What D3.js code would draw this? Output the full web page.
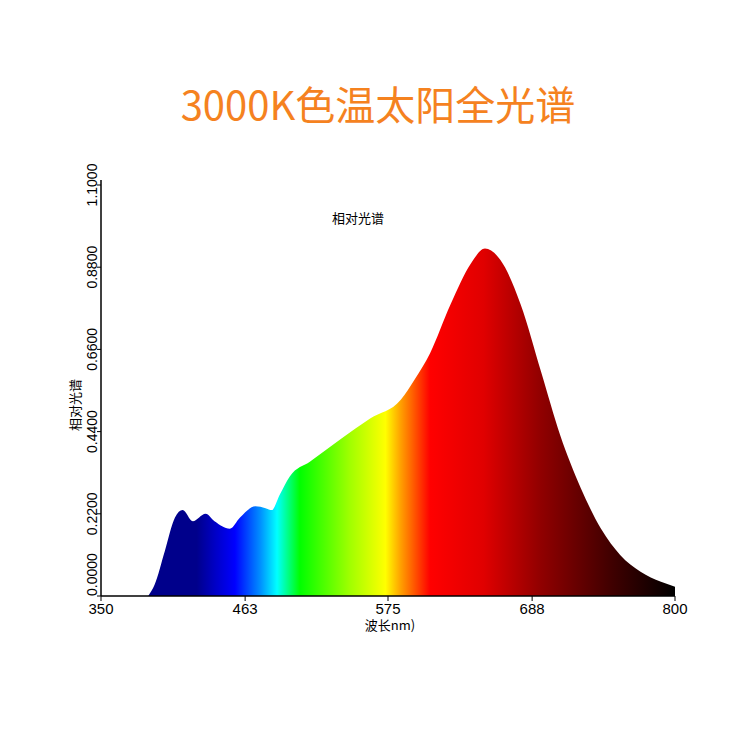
<!DOCTYPE html><html><head><meta charset="utf-8"><script src="https://cdn.jsdelivr.net/npm/d3@7"></script>
<style>body{margin:0;background:#fff}</style></head><body><svg id="c" width="750" height="750"></svg>
<script>
const wavelengths=[387,392,400,408,414,422,432,439,451,459,471,479,484,490,498,514,538,561,585,596,608,624,640,651,663,679,695,710,726,742,757,773,789,800];
const intensity=[0,0.03,0.12,0.21,0.23,0.2,0.22,0.2,0.18,0.21,0.24,0.235,0.23,0.27,0.32,0.36,0.42,0.475,0.525,0.58,0.65,0.78,0.89,0.93,0.90,0.78,0.6,0.43,0.29,0.18,0.11,0.065,0.038,0.025];
const xTicks=[350,463,575,688,800];
const yTicks=[0,0.22,0.44,0.66,0.88,1.1];
const colorStops=[[350,"#00008b"],[425,"#00008b"],[440,"#0000c8"],[455,"#0000ff"],[475,"#0090ff"],[488,"#00ffff"],[506,"#00ff00"],[545,"#a0ff00"],[573,"#ffff00"],[585,"#ffa000"],[608,"#ff0000"],[650,"#e00000"],[695,"#900000"],[750,"#400000"],[800,"#000000"]];
const svg=d3.select("#c");
const x=d3.scaleLinear().domain([350,800]).range([101,675]);
const y=d3.scaleLinear().domain([0,1.1]).range([596,185]);
const g=svg.append("defs").append("linearGradient").attr("id","sp").attr("gradientUnits","userSpaceOnUse").attr("x1",x(350)).attr("x2",x(800)).attr("y1",0).attr("y2",0);
colorStops.forEach(s=>g.append("stop").attr("offset",(s[0]-350)/450).attr("stop-color",s[1]));
const data=wavelengths.map((w,i)=>[w,intensity[i]]);
svg.append("path").datum(data).attr("fill","url(#sp)")
 .attr("d",d3.area().x(d=>x(d[0])).y0(y(0)).y1(d=>y(d[1])).curve(d3.curveMonotoneX));
svg.append("line").attr("x1",x(350)).attr("x2",x(800)).attr("y1",y(0)).attr("y2",y(0)).attr("stroke","#000").attr("stroke-width",1.5);
svg.append("line").attr("x1",x(350)).attr("x2",x(350)).attr("y1",y(0)).attr("y2",180).attr("stroke","#000").attr("stroke-width",1.5);
xTicks.forEach(t=>{
 svg.append("line").attr("x1",x(t)).attr("x2",x(t)).attr("y1",y(0)).attr("y2",y(0)+5).attr("stroke","#000");
 svg.append("text").attr("x",x(t)).attr("y",614).attr("text-anchor","middle").attr("font-family","Liberation Sans, Arial").attr("font-size",15).text(t);
});
yTicks.forEach(t=>{
 svg.append("line").attr("x1",x(350)-4).attr("x2",x(350)).attr("y1",y(t)).attr("y2",y(t)).attr("stroke","#000");
 svg.append("text").attr("transform",`translate(${x(350)-4},${y(t)}) rotate(-90)`).attr("text-anchor",t===0?"start":"middle")
 .attr("font-family","Liberation Sans, Arial").attr("font-size",14).text(t.toFixed(4));
});
svg.append("text").attr("x",378).attr("y",120).attr("text-anchor","middle").attr("fill","#f5821f").attr("font-family","Noto Sans CJK SC").attr("font-size",40).text("3000K色温太阳全光谱");
svg.append("text").attr("x",358).attr("y",223).attr("text-anchor","middle").attr("font-family","Noto Sans CJK SC").attr("font-size",13).text("相对光谱");
svg.append("text").attr("x",390).attr("y",630).attr("text-anchor","middle").attr("font-family","Noto Sans CJK SC").attr("font-size",13).text("波长nm)");
svg.append("text").attr("transform","translate(80,405) rotate(-90)").attr("text-anchor","middle").attr("font-family","Noto Sans CJK SC").attr("font-size",13).text("相对光谱");
</script></body></html>
